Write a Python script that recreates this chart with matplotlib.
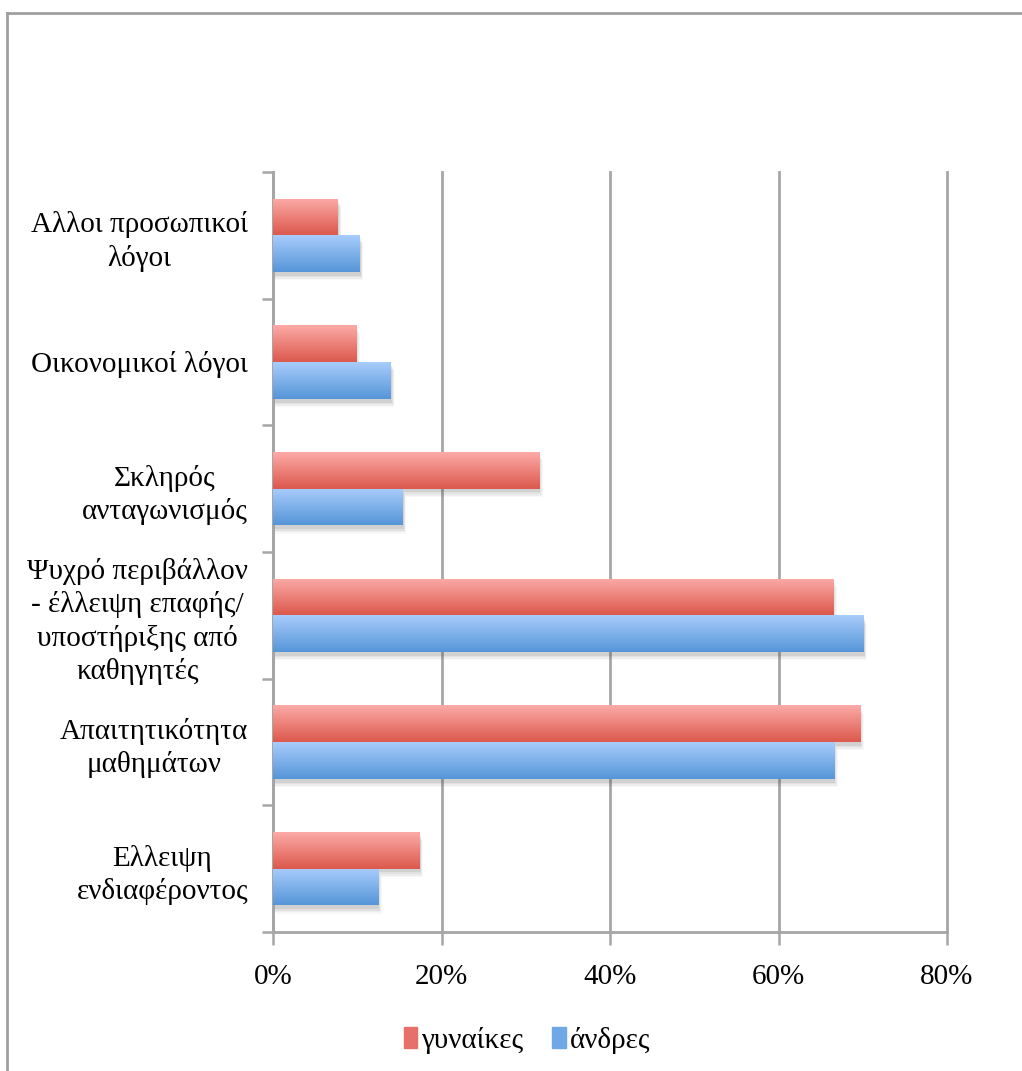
import numpy as np
import matplotlib
matplotlib.use('Agg')
import matplotlib.pyplot as plt
from matplotlib.colors import LinearSegmentedColormap
from matplotlib.patches import Rectangle
from matplotlib.lines import Line2D

plt.rcParams['font.family'] = ['Liberation Serif', 'DejaVu Serif']

categories = ['Αλλοι προσωπικοί\nλόγοι',
              'Οικονομικοί λόγοι',
              'Σκληρός\nανταγωνισμός',
              'Ψυχρό περιβάλλον\n- έλλειψη επαφής/\nυποστήριξης από\nκαθηγητές',
              'Απαιτητικότητα\nμαθημάτων',
              'Ελλειψη\nενδιαφέροντος']
women = [7.7, 9.9, 31.6, 66.5, 69.7, 17.4]
men = [10.3, 14.0, 15.4, 70.1, 66.6, 12.5]
series_names = ['γυναίκες', 'άνδρες']
xticks = [0, 20, 40, 60, 80]

red_cmap = LinearSegmentedColormap.from_list('r', ['#fcaaa7', '#dc594d'])
blue_cmap = LinearSegmentedColormap.from_list('b', ['#a8ccfb', '#5596d8'])

fig = plt.figure(figsize=(10.22, 10.71), dpi=100)
ax = fig.add_axes([273 / 1022, 1 - 932 / 1071, 674 / 1022, 760 / 1071])

y = np.arange(len(categories))
h = 0.29
bars_w = ax.barh(y - h / 2, women, height=h, color='none', zorder=3)
bars_m = ax.barh(y + h / 2, men, height=h, color='none', zorder=3)

grad = np.linspace(0, 1, 64).reshape(-1, 1)
for bars, cmap in [(bars_w, red_cmap), (bars_m, blue_cmap)]:
    for p in bars:
        x0, y0 = p.get_x(), p.get_y()
        w, hh = p.get_width(), p.get_height()
        # soft shadow
        for k, a in enumerate([0.10, 0.08, 0.06, 0.04]):
            off = 0.12 + 0.1 * k
            ax.add_patch(Rectangle((x0, y0 + 0.03 + 0.012 * k), w + off, hh,
                                   color='#505050', alpha=a, lw=0, zorder=2))
        im = ax.imshow(grad, extent=[x0, x0 + w, y0 + hh, y0], aspect='auto',
                       cmap=cmap, zorder=4, interpolation='bilinear')
        im.set_clip_path(p)

ax.set_xlim(0, 80)
ax.set_ylim(len(categories) - 0.5, -0.5)

ax.set_xticks(xticks)
ax.set_xticklabels([f'{t}%' for t in xticks], fontsize=21)
ax.set_yticks(np.arange(len(categories) + 1) - 0.5)
ax.set_yticklabels([])
ax.set_yticks(y, minor=True)
ax.set_yticklabels(categories, minor=True, fontsize=21)
for lab in ax.get_yticklabels(minor=True):
    lab.set_multialignment('center')
    lab.set_linespacing(1.3)

ax.tick_params(axis='x', length=9, width=1.8, color='#a6a6a6', pad=14)
ax.tick_params(axis='y', which='major', length=8, width=1.8, color='#a6a6a6')
ax.tick_params(axis='y', which='minor', length=0, pad=18)

ax.grid(axis='x', color='#a6a6a6', linewidth=2, zorder=0)
for gl in ax.get_xgridlines():
    gl.set_clip_on(False)
ax.set_axisbelow(True)
for s in ['top', 'right']:
    ax.spines[s].set_visible(False)
for s in ['left', 'bottom']:
    ax.spines[s].set_color('#a6a6a6')
    ax.spines[s].set_linewidth(2)

handles = [Rectangle((0, 0), 1, 1, color='#e8706a'),
           Rectangle((0, 0), 1, 1, color='#6fa8e6')]
fig.legend(handles, series_names, loc='center', bbox_to_anchor=(527 / 1022, 1 - 1040 / 1071),
           ncol=2, frameon=False, fontsize=21, handlelength=0.45, handleheight=0.75,
           handletextpad=0.15, columnspacing=1.0)

# outer frame (top and left only)
fig.add_artist(Line2D([7 / 1022, 1], [1 - 13 / 1071] * 2, color='#a0a0a0', lw=2))
fig.add_artist(Line2D([7 / 1022] * 2, [0, 1 - 13 / 1071], color='#a0a0a0', lw=2))

fig.savefig('out.png', dpi=100, facecolor='white')
